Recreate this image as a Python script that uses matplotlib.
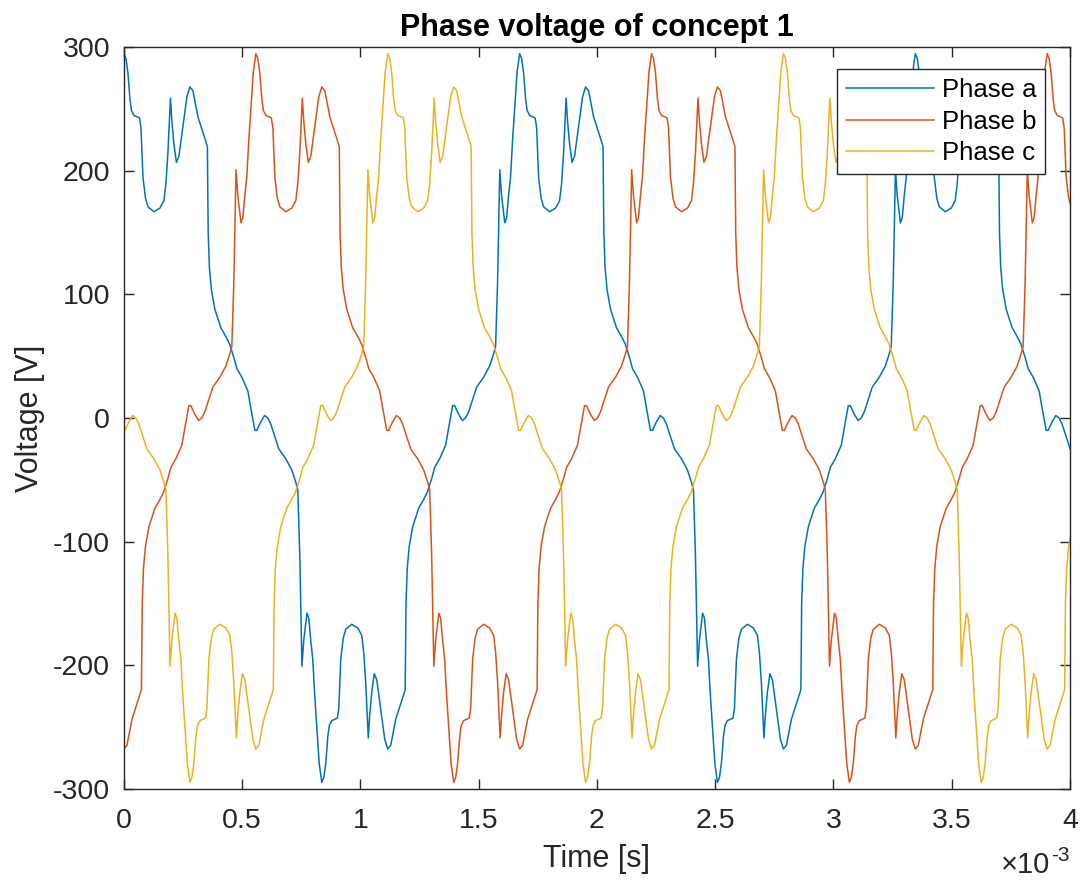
import numpy as np
import matplotlib.pyplot as plt
from matplotlib.transforms import offset_copy

plt.rcParams['font.family'] = ['Liberation Sans', 'DejaVu Sans']
plt.rcParams['axes.unicode_minus'] = False

# one electrical period of phase a (time in ms from its positive peak)
PERIOD = 1.673  # ms
PERIOD_T = [0.0, 0.0085, 0.0169, 0.0253, 0.0317, 0.0422, 0.0655, 0.0718, 0.0802, 0.0908,
            0.1014, 0.1267, 0.1520, 0.1689, 0.1774, 0.1858, 0.1964, 0.2027, 0.2111, 0.2217,
            0.2323, 0.2492, 0.2660, 0.2787, 0.2914, 0.3125, 0.3378, 0.3526, 0.3560, 0.3611,
            0.3695, 0.3843, 0.4096, 0.4307, 0.4464, 0.4645, 0.4772, 0.4983, 0.5236, 0.5363,
            0.5532, 0.5617, 0.5785, 0.5942, 0.6081, 0.6208, 0.6377, 0.6546, 0.6841, 0.7095,
            0.7264, 0.7348, 0.7432, 0.7525, 0.7601, 0.7736, 0.7813, 0.7897, 0.7981, 0.8066,
            0.8159, 0.8256,
            0.8365, 0.8450, 0.8534, 0.8618, 0.8682, 0.8787, 0.9020, 0.9083, 0.9167, 0.9273,
            0.9379, 0.9632, 0.9885, 1.0054, 1.0139, 1.0223, 1.0329, 1.0392, 1.0476, 1.0582,
            1.0688, 1.0857, 1.1025, 1.1152, 1.1279, 1.1490, 1.1743, 1.1891, 1.1925, 1.1976,
            1.2060, 1.2208, 1.2461, 1.2672, 1.2829, 1.3010, 1.3137, 1.3348, 1.3601, 1.3728,
            1.3897, 1.3982, 1.4150, 1.4307, 1.4446, 1.4573, 1.4742, 1.4911, 1.5206, 1.5460,
            1.5629, 1.5713, 1.5797, 1.5890, 1.5966, 1.6101, 1.6178, 1.6262, 1.6346, 1.6431,
            1.6524, 1.6621]
PERIOD_V = [295, 291, 279, 258, 249, 245, 243, 235, 195, 178,
            171, 167, 170, 176, 190, 215, 259, 240, 222, 207,
            212, 236, 260, 268, 265, 244, 229, 220, 150, 122,
            104, 88, 73, 66, 60, 49, 40, 33, 22, 8,
            -10, -10, -3, 2, 0, -5, -15, -25, -33, -42,
            -52, -58, -110, -201, -180, -158, -162, -180, -195, -225,
            -252, -280,
            -295, -291, -279, -258, -249, -245, -243, -235, -195, -178,
            -171, -167, -170, -176, -190, -215, -259, -240, -222, -207,
            -212, -236, -260, -268, -265, -244, -229, -220, -150, -122,
            -104, -88, -73, -66, -60, -49, -40, -33, -22, -8,
            10, 10, 3, -2, 0, 5, 15, 25, 33, 42,
            52, 58, 110, 201, 180, 158, 162, 180, 195, 225,
            252, 280]

labels = ['Phase a', 'Phase b', 'Phase c']
lags = [0.0, PERIOD / 3, 2 * PERIOD / 3]  # ms
colors = ['#0072BD', '#D95319', '#EDB120']
xtick_labels = ['0', '0.5', '1', '1.5', '2', '2.5', '3', '3.5', '4']


def phase_curve(lag):
    t_one = np.append(PERIOD_T, PERIOD)
    v_one = np.append(PERIOD_V, PERIOD_V[0])
    ts, vs = [], []
    for k in range(-2, 4):
        ts.append(t_one + k * PERIOD + lag)
        vs.append(v_one)
    return np.concatenate(ts), np.concatenate(vs)


fig = plt.figure(figsize=(10.81, 8.84), dpi=100)
ax = fig.add_axes([0.1147, 0.108, 0.8751, 0.8383])

for lab, lag, c in zip(labels, lags, colors):
    t, v = phase_curve(lag)
    ax.plot(t, v, color=c, lw=1.1, label=lab)

ax.set_xlim(0, 4)
ax.set_ylim(-300, 300)
ax.set_xticks(np.arange(0, 4.01, 0.5))
ax.set_xticklabels(xtick_labels)
ax.set_yticks(np.arange(-300, 301, 100))

for s in ax.spines.values():
    s.set_color('#262626')
    s.set_linewidth(1.0)
ax.tick_params(axis='both', direction='in', top=True, right=True, length=7,
               width=1.0, color='#262626', labelsize=20.5, labelcolor='#262626')
ax.tick_params(axis='x', pad=14)
ax.tick_params(axis='y', pad=10)

ax.set_title('Phase voltage of concept 1', fontsize=22, fontweight='bold', pad=8)
ax.set_xlabel('Time [s]', fontsize=22, color='#262626', labelpad=7)
ax.set_ylabel('Voltage [V]', fontsize=22, color='#262626', labelpad=6)

# MATLAB style exponent label under the right end of the x axis
base = offset_copy(ax.transAxes, fig=fig, x=-20, y=-84, units='dots')
ax.text(1.0, 0.0, '\u00d710', transform=base, ha='right', va='baseline',
        fontsize=21, color='#262626')
sup = offset_copy(ax.transAxes, fig=fig, x=0, y=-72, units='dots')
ax.text(1.0, 0.0, '-3', transform=sup, ha='right', va='baseline',
        fontsize=15, color='#262626')

leg = ax.legend(loc='upper right', bbox_to_anchor=(0.9736, 0.971), borderaxespad=0,
                fontsize=18.5, fancybox=False, framealpha=1, edgecolor='#262626',
                handlelength=3.4, handletextpad=0.3, labelspacing=0.3, borderpad=0.35)
leg.get_frame().set_linewidth(1.0)

fig.savefig('out.png', dpi=100)
